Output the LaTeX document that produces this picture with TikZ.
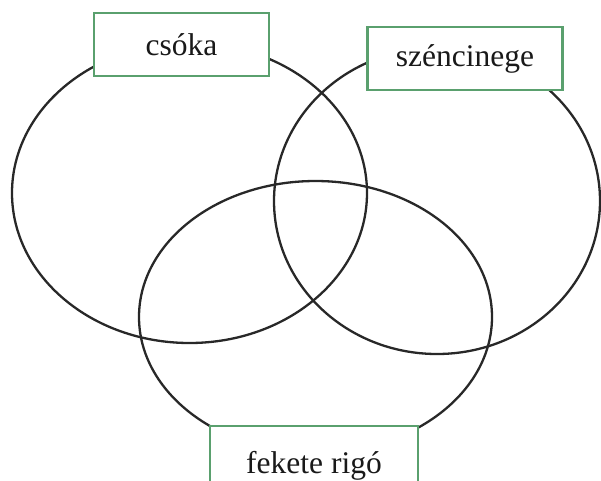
\documentclass[tikz,border=0pt]{standalone}
\usepackage{fontspec}
\setmainfont{Liberation Serif}
\definecolor{boxgreen}{RGB}{90,160,110}
\definecolor{linegray}{RGB}{40,40,40}
\begin{document}
\begin{tikzpicture}[x=1pt,y=-1pt,
  ring/.style={draw=linegray,line width=2.3pt},
  labelbox/.style={draw=boxgreen,fill=white,line width=2.2pt,rectangle,inner sep=0pt,
    font=\fontsize{31.5}{37}\selectfont,text=black!90}]
\clip (0,0) rectangle (601,480);
\useasboundingbox (0,0) rectangle (601,480);
\draw[ring] (189.5,193) ellipse [x radius=177.5pt, y radius=150pt];
\draw[ring] (437,201) ellipse [x radius=163pt, y radius=153pt];
\draw[ring] (315.5,317) ellipse [x radius=176.5pt, y radius=136pt];
\node[labelbox,minimum width=175pt,minimum height=63pt] (csoka) at (181.5,44.5) {csóka};
\node[labelbox,minimum width=195pt,minimum height=63pt] (szen) at (465,58.5) {széncinege\hspace{14pt}};
\node[labelbox,minimum width=208pt,minimum height=80pt] (rigo) at (314,466) {\raisebox{8pt}{fekete rigó}};
\end{tikzpicture}
\end{document}
